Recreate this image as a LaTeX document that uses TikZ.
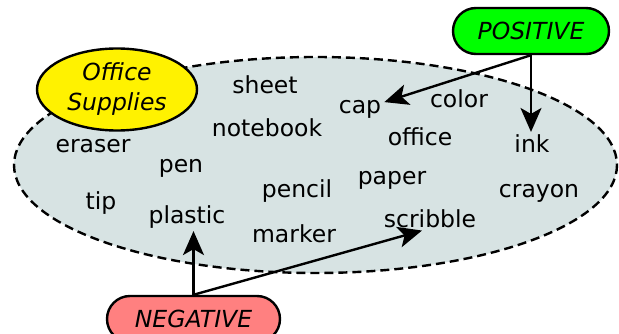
\documentclass[tikz,border=0pt]{standalone}
\usepackage{fontspec}
\setmainfont{DejaVu Sans}
\usetikzlibrary{arrows.meta,shapes.geometric}
\definecolor{cloudfill}{RGB}{215,227,227}
\definecolor{posgreen}{RGB}{0,255,0}
\definecolor{negred}{RGB}{255,128,128}
\tikzset{
  word/.style={anchor=base,inner sep=3pt,font=\fontsize{23.5}{28}\selectfont},
  tagbox/.style={draw,line width=2.4pt,rounded corners=23pt,minimum width=156pt,
    minimum height=46pt,inner sep=0pt,font=\fontsize{23.5}{28}\selectfont\itshape},
  link/.style={line width=2.4pt,-{Stealth[length=24pt,width=21pt,inset=6pt]}},
}
\begin{document}
\begin{tikzpicture}[x=1pt,y=-1pt]
\useasboundingbox (0,0) rectangle (619,334);
% the cloud of words
\draw[fill=cloudfill,line width=2.4pt,dash pattern=on 9pt off 5pt]
  (315.5,165) ellipse [x radius=301.5,y radius=108];
% heading
\node[draw,fill=yellow,ellipse,line width=2.4pt,minimum width=160pt,minimum height=82pt,
  inner sep=0pt,align=center,font=\fontsize{23.5}{30}\selectfont\itshape]
  (office) at (117,89.5) {Office\\Supplies};
% words
\node[word] (sheet) at (265,94) {sheet};
\node[word] (notebook) at (267,137) {notebook};
\node[word] (cap) at (360,114) {cap};
\node[word] (color) at (459,108) {color};
\node[word] (officew) at (420,146) {office};
\node[word] (ink) at (532,153) {ink};
\node[word] (paper) at (392,185) {paper};
\node[word] (crayon) at (539,197) {crayon};
\node[word] (scribble) at (430,227) {scribble};
\node[word] (eraser) at (93,153) {eraser};
\node[word] (pen) at (181,173) {pen};
\node[word] (tip) at (101,210) {tip};
\node[word] (plastic) at (187,223) {plastic};
\node[word] (pencil) at (297,198) {pencil};
\node[word] (marker) at (294,242) {marker};
% sentiment tags
\node[tagbox,fill=posgreen] (pos) at (531,31) {POSITIVE};
\node[tagbox,fill=negred,minimum width=173pt] (neg) at (193.5,319) {NEGATIVE};
% links
\draw[link] (pos.south) -- (cap);
\draw[link] (pos.south) -- (pos.south |- ink.north);
\draw[link] (neg.north) -- (neg.north |- plastic.south);
\draw[link] (neg.north) -- ([xshift=-8pt]scribble.south);
\end{tikzpicture}
\end{document}
